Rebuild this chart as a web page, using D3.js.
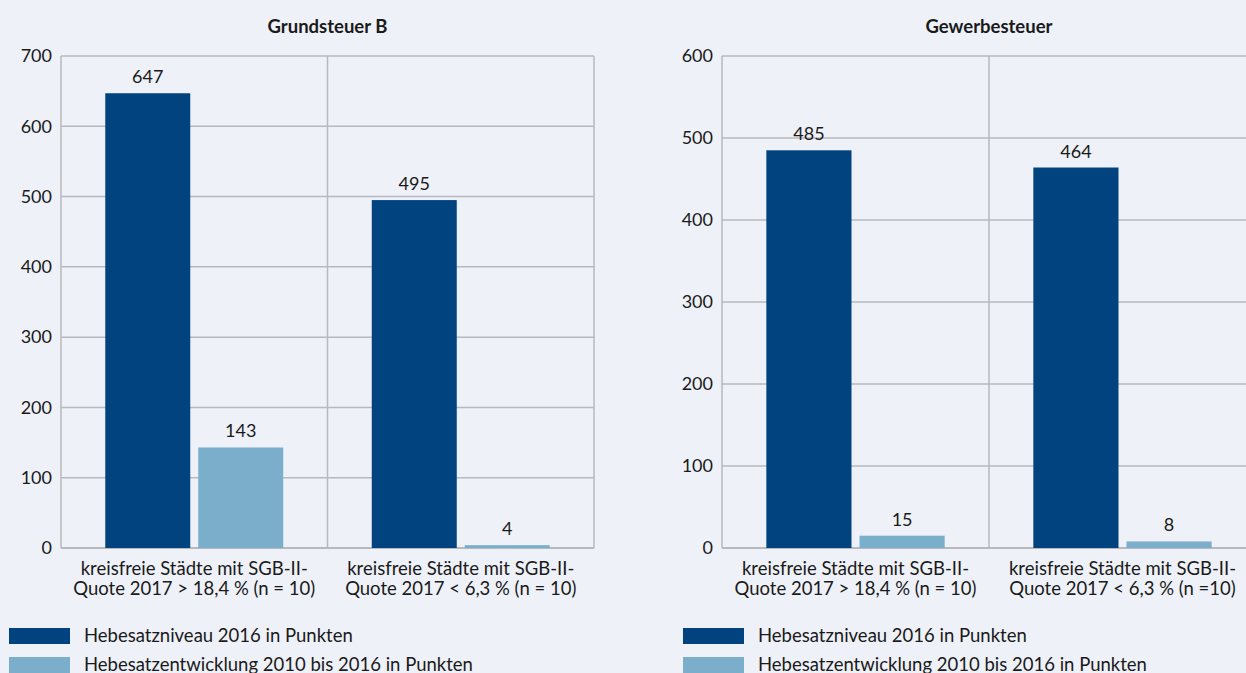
<!DOCTYPE html>
<html>
<head>
<meta charset="utf-8">
<script src="https://cdn.jsdelivr.net/npm/d3@7"></script>
<style>
  html, body { margin: 0; padding: 0; background: #eef1f8; }
  svg { display: block; font-family: Lato, "Noto Sans", sans-serif; }
</style>
</head>
<body>
<svg id="chart" width="1246" height="673"></svg>
<script>
// ---- data ----
const categories = ["g1", "g2"];
const categoryLinesLeft = [
  ["kreisfreie Städte mit SGB-II-", "Quote 2017 > 18,4 % (n = 10)"],
  ["kreisfreie Städte mit SGB-II-", "Quote 2017 < 6,3 % (n = 10)"]
];
const categoryLinesRight = [
  ["kreisfreie Städte mit SGB-II-", "Quote 2017 > 18,4 % (n = 10)"],
  ["kreisfreie Städte mit SGB-II-", "Quote 2017 < 6,3 % (n =10)"]
];
const seriesNames = ["Hebesatzniveau 2016 in Punkten", "Hebesatzentwicklung 2010 bis 2016 in Punkten"];
const grundsteuerNiveau = [647, 495];
const grundsteuerEntwicklung = [143, 4];
const gewerbeNiveau = [485, 464];
const gewerbeEntwicklung = [15, 8];
const leftTicks = [0, 100, 200, 300, 400, 500, 600, 700];
const rightTicks = [0, 100, 200, 300, 400, 500, 600];
const titles = ["Grundsteuer B", "Gewerbesteuer"];

// ---- styles ----
const colors = ["#00437f", "#7aaeca"];
const gridColor = "#b7b9bd";
const textColor = "#1a1a1a";

const svg = d3.select("#chart");

function drawPanel(opts) {
  const { x0, x1, yTop, yBottom, maxVal, ticks, title, s1, s2, catLines, legendX } = opts;
  const g = svg.append("g");

  const x = d3.scaleBand().domain(categories).range([x0, x1]).paddingInner(0).paddingOuter(0);
  const xs = d3.scaleBand().domain([0, 1]).range([0, x.bandwidth()]).paddingInner(0.086).paddingOuter(0.476);
  const y = d3.scaleLinear().domain([0, maxVal]).range([yBottom, yTop]);

  // horizontal grid lines
  g.append("g").selectAll("line").data(ticks).join("line")
    .attr("x1", x0).attr("x2", x1)
    .attr("y1", d => y(d)).attr("y2", d => y(d))
    .attr("stroke", gridColor).attr("stroke-width", d => d === 0 ? 2 : 1.5);

  // vertical lines (band boundaries)
  const vlines = [x0].concat(categories.map(c => x(c) + x.bandwidth()));
  g.append("g").selectAll("line").data(vlines).join("line")
    .attr("x1", d => d).attr("x2", d => d)
    .attr("y1", yTop).attr("y2", yBottom)
    .attr("stroke", gridColor).attr("stroke-width", 1.5);

  // y tick labels
  g.append("g").selectAll("text").data(ticks).join("text")
    .attr("x", x0 - 9).attr("y", d => y(d))
    .attr("dy", "0.35em").attr("text-anchor", "end")
    .attr("font-size", 18).attr("fill", textColor)
    .text(d => d);

  // bars
  const rows = [];
  categories.forEach((c, i) => {
    rows.push({ c, s: 0, v: s1[i] });
    rows.push({ c, s: 1, v: s2[i] });
  });
  g.append("g").selectAll("rect").data(rows).join("rect")
    .attr("x", d => x(d.c) + xs(d.s))
    .attr("width", xs.bandwidth())
    .attr("y", d => y(d.v))
    .attr("height", d => y(0) - y(d.v))
    .attr("fill", d => colors[d.s]);

  // value labels
  g.append("g").selectAll("text").data(rows).join("text")
    .attr("x", d => x(d.c) + xs(d.s) + xs.bandwidth() / 2)
    .attr("y", d => y(d.v) - 10)
    .attr("text-anchor", "middle")
    .attr("font-size", 18).attr("fill", textColor)
    .text(d => d.v);

  // category labels
  categories.forEach((c, i) => {
    const t = g.append("text")
      .attr("text-anchor", "middle")
      .attr("font-size", 18.5).attr("fill", textColor);
    catLines[i].forEach((line, j) => {
      t.append("tspan")
        .attr("x", x(c) + x.bandwidth() / 2)
        .attr("y", yBottom + 27 + j * 20)
        .text(line);
    });
  });

  // title
  g.append("text")
    .attr("x", (x0 + x1) / 2).attr("y", 27).attr("dy", "0.35em")
    .attr("text-anchor", "middle")
    .attr("font-size", 18.5).attr("font-weight", "bold").attr("fill", textColor)
    .text(title);

  // legend
  const lg = g.append("g").selectAll("g").data(seriesNames).join("g")
    .attr("transform", (d, i) => `translate(${legendX},${628 + i * 29})`);
  lg.append("rect").attr("width", 61).attr("height", 16).attr("fill", (d, i) => colors[i]);
  lg.append("text").attr("x", 75).attr("y", 8).attr("dy", "0.35em")
    .attr("font-size", 18.5).attr("fill", textColor).text(d => d);
}

drawPanel({
  x0: 61, x1: 594, yTop: 56, yBottom: 548, maxVal: 700, ticks: leftTicks,
  title: titles[0], s1: grundsteuerNiveau, s2: grundsteuerEntwicklung,
  catLines: categoryLinesLeft, legendX: 9
});
drawPanel({
  x0: 722, x1: 1256, yTop: 56, yBottom: 548, maxVal: 600, ticks: rightTicks,
  title: titles[1], s1: gewerbeNiveau, s2: gewerbeEntwicklung,
  catLines: categoryLinesRight, legendX: 683
});
</script>
</body>
</html>
